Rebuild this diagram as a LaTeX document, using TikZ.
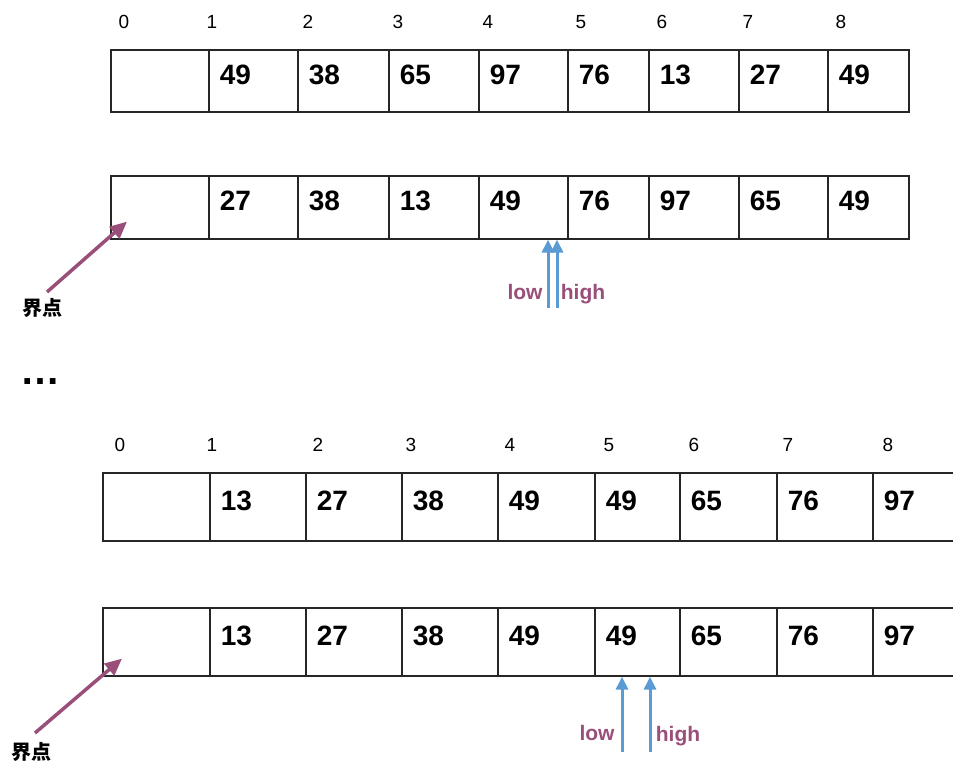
\documentclass[tikz,border=0pt]{standalone}
\usepackage{fontspec}
\setmainfont{Liberation Sans}
\newfontfamily\cjk{Noto Sans CJK SC}
\usetikzlibrary{arrows.meta}
\definecolor{ptrpurple}{RGB}{153,79,122}
\definecolor{ptrblue}{RGB}{91,155,213}

\begin{document}
\begin{tikzpicture}[x=1pt, y=-1pt,
  line width=1.6pt,
    cell/.style n args={2}{draw=black!85, anchor=north west, minimum width=#1, minimum height=#2,
                text width=#1-22, align=left, inner ysep=2pt, text height=20, text depth=13,
                font=\fontsize{28}{30}\selectfont\bfseries},
    idx/.style={font=\fontsize{19}{20}\selectfont},
    ptr/.style={font=\fontsize{21}{24}\selectfont\bfseries, text=ptrpurple},
    bnd/.style={font=\fontsize{20}{22}\selectfont\cjk\bfseries},
    ptrline/.style={draw=ptrblue, line width=3pt, >={Triangle[length=13pt, width=12pt]}},
    bndline/.style={draw=ptrpurple, line width=3.5pt, >={Triangle[length=17pt, width=15pt]}},
]
\useasboundingbox (0,0) rectangle (953,765);
% first pass
\node[idx] (i0) at (124,22) {0};
\node[idx] (i1) at (212,22) {1};
\node[idx] (i2) at (308,22) {2};
\node[idx] (i3) at (398,22) {3};
\node[idx] (i4) at (488,22) {4};
\node[idx] (i5) at (581,22) {5};
\node[idx] (i6) at (662,22) {6};
\node[idx] (i7) at (748,22) {7};
\node[idx] (i8) at (841,22) {8};
\node[cell={98}{62}] (a0) at (110,49.5) {};
\node[cell={89}{62}] (a1) at (208,49.5) {49};
\node[cell={91}{62}] (a2) at (297,49.5) {38};
\node[cell={90}{62}] (a3) at (388,49.5) {65};
\node[cell={89}{62}] (a4) at (478,49.5) {97};
\node[cell={81}{62}] (a5) at (567,49.5) {76};
\node[cell={90}{62}] (a6) at (648,49.5) {13};
\node[cell={89}{62}] (a7) at (738,49.5) {27};
\node[cell={81}{62}] (a8) at (827,49.5) {49};
\node[cell={98}{63}] (b0) at (110,175) {};
\node[cell={89}{63}] (b1) at (208,175) {27};
\node[cell={91}{63}] (b2) at (297,175) {38};
\node[cell={90}{63}] (b3) at (388,175) {13};
\node[cell={89}{63}] (b4) at (478,175) {49};
\node[cell={81}{63}] (b5) at (567,175) {76};
\node[cell={90}{63}] (b6) at (648,175) {97};
\node[cell={89}{63}] (b7) at (738,175) {65};
\node[cell={81}{63}] (b8) at (827,175) {49};
\coordinate (lo1) at (548,308);
\coordinate (hi1) at (557,308);
\draw[ptrline, ->] (lo1) -- (lo1 |- b4.south);
\draw[ptrline, ->] (hi1) -- (hi1 |- b4.south);
\node[ptr] (low1) at (525,292) {low};
\node[ptr] (high1) at (583,294) {high};
\node[bnd] (bd1) at (42,308) {界点};
\coordinate (bt1) at (47,292);
\draw[bndline, ->] (bt1) -- ([shift={(17,-18)}]b0.south west);
\node[font=\fontsize{40}{44}\selectfont\bfseries] (dots) at (40,382) {…};
% last pass
\node[idx] (k0) at (120,445) {0};
\node[idx] (k1) at (212,445) {1};
\node[idx] (k2) at (318,445) {2};
\node[idx] (k3) at (411,445) {3};
\node[idx] (k4) at (510,445) {4};
\node[idx] (k5) at (609,445) {5};
\node[idx] (k6) at (694,445) {6};
\node[idx] (k7) at (788,445) {7};
\node[idx] (k8) at (888,445) {8};
\node[cell={107}{68}] (c0) at (102,472) {};
\node[cell={96}{68}] (c1) at (209,472) {13};
\node[cell={96}{68}] (c2) at (305,472) {27};
\node[cell={96}{68}] (c3) at (401,472) {38};
\node[cell={97}{68}] (c4) at (497,472) {49};
\node[cell={85}{68}] (c5) at (594,472) {49};
\node[cell={97}{68}] (c6) at (679,472) {65};
\node[cell={96}{68}] (c7) at (776,472) {76};
\node[cell={96}{68}] (c8) at (872,472) {97};
\node[cell={107}{68}] (d0) at (102,607) {};
\node[cell={96}{68}] (d1) at (209,607) {13};
\node[cell={96}{68}] (d2) at (305,607) {27};
\node[cell={96}{68}] (d3) at (401,607) {38};
\node[cell={97}{68}] (d4) at (497,607) {49};
\node[cell={85}{68}] (d5) at (594,607) {49};
\node[cell={97}{68}] (d6) at (679,607) {65};
\node[cell={96}{68}] (d7) at (776,607) {76};
\node[cell={96}{68}] (d8) at (872,607) {97};
\coordinate (lo2) at (622,752);
\coordinate (hi2) at (650,752);
\draw[ptrline, ->] (lo2) -- (lo2 |- d5.south);
\draw[ptrline, ->] (hi2) -- (hi2 |- d5.south);
\node[ptr] (low2) at (597,733) {low};
\node[ptr] (high2) at (678,736) {high};
\node[bnd] (bd2) at (31,752) {界点};
\coordinate (bt2) at (35,733);
\draw[bndline, ->] (bt2) -- ([shift={(20,-18)}]d0.south west);
\end{tikzpicture}
\end{document}
